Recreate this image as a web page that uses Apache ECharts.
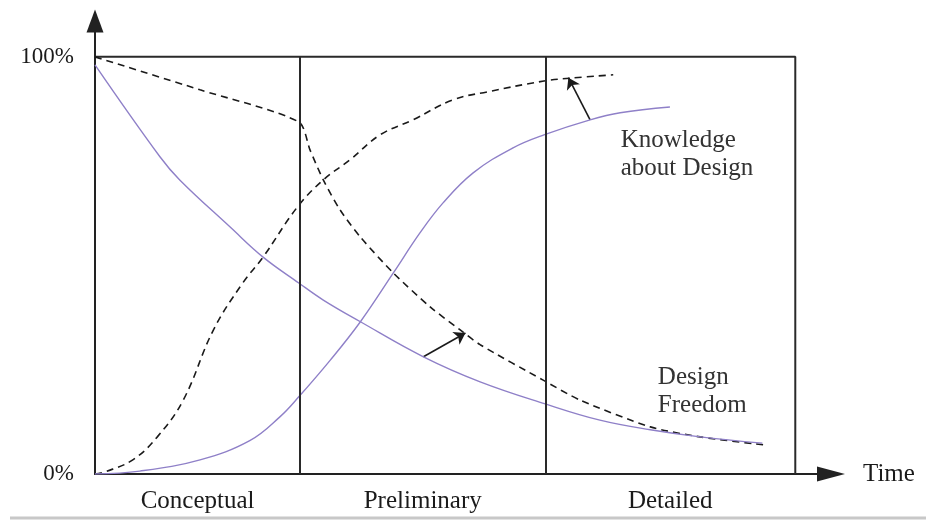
<!DOCTYPE html>
<html>
<head>
<meta charset="utf-8">
<script src="https://cdn.jsdelivr.net/npm/echarts@6/dist/echarts.min.js"></script>
<style>
    html, body { margin: 0; padding: 0; background: #fff; }
    #chart { width: 926px; height: 521px; }
</style>
</head>
<body>
<div id="chart"></div>
<script>
// design phases along the time axis (percent of total time)
const phaseNames = ['Conceptual', 'Preliminary', 'Detailed'];
const phaseEdges = [0, 29.3, 64.3, 100];
const yTicks = [0, 100];

// [time %, value %]
const knowledgeDashed = [[0, 0], [1.4, 0.5], [5.4, 3.4], [8.9, 8.9], [12.6, 17.7], [16.9, 34.5], [21.1, 45.8],
    [24.0, 52.0], [28.9, 64.0], [32.6, 70.5], [36.4, 75.3], [40.7, 81.3], [45.4, 84.9], [51.1, 89.7],
    [56.0, 91.6], [64.1, 94.2], [67.9, 94.9], [74.0, 95.7]];
const knowledgeSolid = [[0, 0], [6.4, 0.7], [15.0, 3.4], [22.1, 8.0], [26.4, 13.7], [29.1, 18.5], [33.6, 27.3],
    [37.9, 36.5], [42.6, 48.2], [46.4, 57.8], [49.7, 65.0], [54.0, 72.2], [59.7, 78.2], [64.1, 81.3],
    [70.7, 84.9], [75.0, 86.6], [82.1, 88.0]];
const freedomSolid = [[0, 98.1], [9.3, 76.0], [12.1, 70.5], [19.3, 59.2], [24.0, 52.0], [29.1, 45.8], [32.6, 41.7],
    [37.9, 36.5], [46.9, 28.1], [55.0, 22.1], [64.3, 16.8], [72.1, 12.9], [79.3, 10.6], [86.4, 8.9], [95.3, 7.4]];
const freedomDashed = [[0, 100], [15, 92.1], [29.1, 84.4], [30.7, 77.7], [32.6, 70.5], [35.0, 63.3], [37.9, 56.8],
    [42.6, 48.2], [47.9, 40.0], [52.1, 34.6], [55.0, 31.0], [64.0, 22.5], [69.3, 17.7], [79.3, 11.3],
    [86.4, 8.9], [95.4, 7.0]];

// arrows from the solid curves to the dashed ones
const arrows = [
    [[46.9, 28.1], [52.9, 33.8]],
    [[70.7, 84.9], [67.6, 95.0]]
];
// text notes: [time %, value %, text]
const notes = [
    [75.0, 76.7, 'Knowledge\nabout Design'],
    [80.3, 19.7, 'Design\nFreedom']
];

const phaseMids = phaseNames.map((n, i) => (phaseEdges[i] + phaseEdges[i + 1]) / 2);
const serif = 'Liberation Serif';
const purple = '#8f80c8';
const ink = '#1a1a1a';

const eChart = echarts.init(document.getElementById('chart'));
const option = {
    animation: false,
    grid: {
        left: 95,
        right: 95,
        top: 21,
        bottom: 47,
        outerBoundsMode: 'none'
    },
    xAxis: {
        type: 'value',
        min: 0,
        max: 105.1,
        name: 'Time',
        nameLocation: 'end',
        nameGap: 32,
        nameTextStyle: { fontFamily: serif, fontSize: 25, color: ink },
        axisLine: {
            lineStyle: { color: '#222', width: 2 },
            symbol: ['none', 'triangle'],
            symbolSize: [15, 28]
        },
        axisTick: { show: false },
        splitLine: { show: false },
        axisLabel: {
            customValues: phaseMids,
            margin: 15,
            fontFamily: serif,
            fontSize: 25,
            color: ink,
            formatter: function(v) {
                const i = phaseMids.indexOf(v);
                return i >= 0 ? phaseNames[i] : '';
            }
        }
    },
    yAxis: {
        type: 'value',
        min: 0,
        max: 108.6,
        axisLine: {
            lineStyle: { color: '#222', width: 2 },
            symbol: ['none', 'triangle'],
            symbolSize: [17, 23]
        },
        axisTick: { show: false },
        splitLine: { show: false },
        axisLabel: {
            customValues: yTicks,
            margin: 21,
            fontFamily: serif,
            fontSize: 23,
            color: ink,
            formatter: v => v + '%'
        }
    },
    graphic: [
        {
            type: 'line',
            shape: { x1: 10, y1: 518, x2: 926, y2: 518 },
            style: { stroke: '#c8c8c8', lineWidth: 3 },
            silent: true
        }
    ],
    series: [
        {
            // box and phase dividers
            type: 'line',
            data: [[0, 100], [100, 100], [100, 0]],
            symbol: 'none',
            lineStyle: { color: '#2a2a2a', width: 2 },
            silent: true,
            markLine: {
                silent: true,
                symbol: 'none',
                label: { show: false },
                lineStyle: { color: '#2a2a2a', width: 2, type: 'solid' },
                data: phaseEdges.slice(1, -1).map(x => [{ coord: [x, 0] }, { coord: [x, 100] }])
            }
        },
        {
            type: 'line',
            data: knowledgeDashed,
            symbol: 'none',
            smooth: 0.4,
            lineStyle: { color: ink, width: 1.6, type: [7, 5] }
        },
        {
            type: 'line',
            data: freedomDashed,
            symbol: 'none',
            smooth: 0.25,
            lineStyle: { color: ink, width: 1.6, type: [7, 5] }
        },
        {
            type: 'line',
            data: knowledgeSolid,
            symbol: 'none',
            smooth: 0.4,
            lineStyle: { color: purple, width: 1.4 },
            markPoint: {
                symbol: 'circle',
                symbolSize: 1,
                itemStyle: { color: 'transparent' },
                label: {
                    show: true,
                    position: 'right',
                    distance: 0,
                    align: 'left',
                    fontFamily: serif,
                    fontSize: 25,
                    lineHeight: 28,
                    color: '#333',
                    formatter: p => p.name
                },
                data: notes.map(n => ({ name: n[2], coord: [n[0], n[1]] }))
            }
        },
        {
            type: 'line',
            data: freedomSolid,
            symbol: 'none',
            smooth: 0.4,
            lineStyle: { color: purple, width: 1.4 }
        },
        {
            type: 'lines',
            coordinateSystem: 'cartesian2d',
            symbol: ['none', 'arrow'],
            symbolSize: 11,
            lineStyle: { color: ink, width: 1.6, opacity: 1 },
            data: arrows.map(a => ({ coords: a }))
        }
    ]
};
eChart.setOption(option);
</script>
</body>
</html>
